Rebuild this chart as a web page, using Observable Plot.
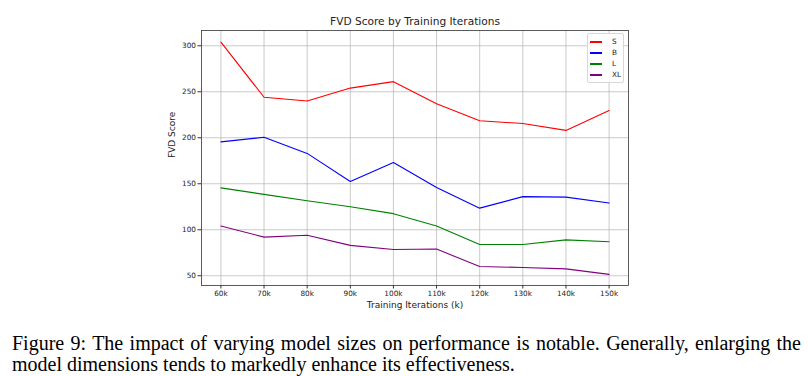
<!DOCTYPE html>
<html>
<head>
<meta charset="utf-8">
<script src="https://cdn.jsdelivr.net/npm/d3@7"></script>
<script src="https://cdn.jsdelivr.net/npm/@observablehq/plot@0.6"></script>
<style>
  html, body { margin: 0; padding: 0; background: #fff; }
  #wrap { position: relative; width: 808px; height: 376px; overflow: hidden; }
  #chart { position: absolute; left: 0; top: 0; }
  #legend { position: absolute; left: 587px; top: 33px; width: 35px; height: 48px;
    border: 1px solid #d8d8d8; border-radius: 2px; background: rgba(255,255,255,0.85);
    font-family: "DejaVu Sans", sans-serif; font-size: 7.3px; color: #222; }
  #legend .row { position: absolute; left: 0; height: 10px; width: 35px; }
  #legend .sw { position: absolute; left: 2px; top: 4px; width: 12px; height: 2px; }
  #legend .lab { position: absolute; left: 24px; top: 0; line-height: 10px; }
  #caption { position: absolute; left: 12px; top: 333px; width: 789px;
    font-family: "Liberation Serif", "Times New Roman", serif; font-size: 20px; line-height: 21px;
    color: #000; text-align: justify; text-align-last: left; }
</style>
</head>
<body>
<div id="wrap">
  <div id="chart"></div>
  <div id="legend"></div>
  <div id="caption"></div>
</div>
<script>
const iterations = [60, 70, 80, 90, 100, 110, 120, 130, 140, 150];
const seriesNames = ["S", "B", "L", "XL"];
const seriesColors = ["red", "blue", "green", "purple"];
const S  = [304, 244, 240, 254, 261, 237, 218.5, 215.5, 208, 229.5];
const B  = [195.5, 200.5, 183, 152.5, 173, 146, 123.5, 136, 135.5, 129];
const L  = [145.5, 138.5, 131.5, 125, 117.5, 104, 84, 84, 89, 87];
const XL = [104, 92, 94, 83, 78.5, 79, 60, 59, 57.5, 51.5];
const yTicks = [50, 100, 150, 200, 250, 300];
const titleText = "FVD Score by Training Iterations";
const xLabel = "Training Iterations (k)";
const yLabel = "FVD Score";
const captionText = "Figure 9: The impact of varying model sizes on performance is notable. Generally, enlarging the model dimensions tends to markedly enhance its effectiveness.";

const valuesBySeries = [S, B, L, XL];
const rows = [];
seriesNames.forEach((name, si) => {
  iterations.forEach((it, i) => rows.push({series: name, iter: it, value: valuesBySeries[si][i]}));
});

const chart = Plot.plot({
  width: 808,
  height: 314,
  marginLeft: 201,
  marginRight: 180,
  marginTop: 30,
  marginBottom: 29,
  style: {fontFamily: "DejaVu Sans, sans-serif", fontSize: "7.3px", color: "#222", background: "white"},
  x: {domain: [55.5, 154.5], label: null},
  y: {domain: [39.4, 316.6], label: null},
  color: {domain: seriesNames, range: seriesColors},
  marks: [
    Plot.gridX(iterations, {stroke: "#b0b0b0", strokeOpacity: 0.85, strokeWidth: 0.8}),
    Plot.gridY(yTicks, {stroke: "#b0b0b0", strokeOpacity: 0.85, strokeWidth: 0.8}),
    Plot.line(rows, {x: "iter", y: "value", z: "series", stroke: "series", strokeWidth: 1.1}),
    Plot.frame({stroke: "#333", strokeWidth: 0.8}),
    Plot.axisX(iterations, {tickFormat: d => d + "k", tickSize: 3.5, tickPadding: 2, label: null, stroke: "#333"}),
    Plot.axisY(yTicks, {tickSize: 3.5, tickPadding: 2, label: null, stroke: "#333"}),
    Plot.text([titleText], {frameAnchor: "top", dy: -8.5, lineAnchor: "middle", fontSize: 10.6, fill: "#222"}),
    Plot.text([xLabel], {frameAnchor: "bottom", dy: 20, lineAnchor: "middle", fontSize: 9, fill: "#222"}),
    Plot.text([yLabel], {frameAnchor: "left", dx: -29, rotate: -90, lineAnchor: "middle", fontSize: 9, fill: "#222"})
  ]
});
document.getElementById("chart").appendChild(chart);

const legend = document.getElementById("legend");
seriesNames.forEach((name, i) => {
  const row = document.createElement("div");
  row.className = "row";
  row.style.top = (3 + i * 11) + "px";
  const sw = document.createElement("div");
  sw.className = "sw";
  sw.style.backgroundColor = seriesColors[i];
  const lab = document.createElement("div");
  lab.className = "lab";
  lab.textContent = name;
  row.appendChild(sw);
  row.appendChild(lab);
  legend.appendChild(row);
});

document.getElementById("caption").textContent = captionText;
</script>
</body>
</html>
